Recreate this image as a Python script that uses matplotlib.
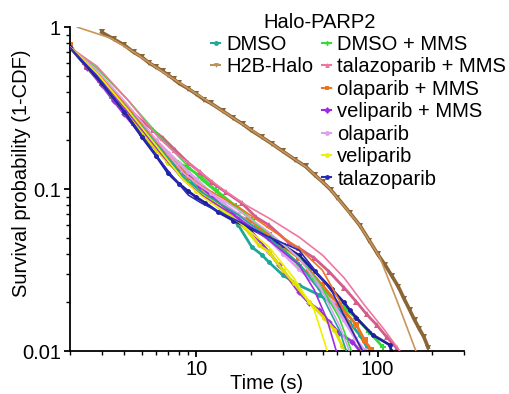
import matplotlib
matplotlib.use("Agg")
import matplotlib.pyplot as plt
from matplotlib.lines import Line2D
from matplotlib.ticker import LogLocator, NullFormatter, FixedLocator, FixedFormatter

plt.rcParams['font.family'] = ['Liberation Sans', 'DejaVu Sans']

# ---------------- data (time in s, survival probability) ----------------
# H2B-Halo
h2b_t = [3.0, 3.5, 4.0, 4.5, 5.0, 5.5, 6.0, 6.5, 7.0, 7.5, 8.0, 9, 10, 11, 12, 14, 16, 18, 20, 23, 26, 30,
         35, 40, 45, 50, 55, 60, 70, 80, 90, 100, 110, 120, 130, 140, 150, 160, 170, 180, 190]
h2b_y = [0.93, 0.843, 0.774, 0.701, 0.653, 0.599, 0.566, 0.535, 0.505, 0.477, 0.451, 0.417, 0.386, 0.357,
         0.339, 0.303, 0.274, 0.252, 0.231, 0.209, 0.191, 0.171, 0.152, 0.138, 0.122, 0.110, 0.0993, 0.0885,
         0.0717, 0.0594, 0.0481, 0.0397, 0.034, 0.029, 0.025, 0.021, 0.018, 0.0155, 0.0137, 0.0122, 0.0105]
h2b_fit_t = [2.2, 3.37, 4.35, 6.56, 10.26, 19.4, 40.3, 54.1, 79.4, 102.6, 127.5, 162.6]
h2b_fit_y = [1.0, 0.855, 0.721, 0.527, 0.380, 0.238, 0.137, 0.1015, 0.060, 0.038, 0.0206, 0.010]

# DMSO
dmso_t = [2.0, 3, 4, 5, 6, 7, 8, 9, 10, 12, 14, 17, 20.2, 23, 25.1, 30, 36.8, 47.6, 57.7, 69.8, 79.4, 86.8]
dmso_y = [0.752, 0.46, 0.31, 0.23, 0.185, 0.155, 0.132, 0.115, 0.103, 0.085, 0.073, 0.060, 0.0439, 0.0392,
          0.0354, 0.0294, 0.0255, 0.0222, 0.0192, 0.0151, 0.0126, 0.0107]
dmso_fit_t = [2.0, 2.82, 4.19, 6.15, 8.47, 10.66, 17.1, 25.1, 36.8, 47.6, 61.4, 67.2]
dmso_fit_y = [0.752, 0.527, 0.312, 0.184, 0.1186, 0.0958, 0.0691, 0.0499, 0.0349, 0.0238, 0.0135, 0.010]

# DMSO + MMS
dmms_t = [2.0, 2.42, 2.93, 3.41, 3.93, 4.47, 5.08, 5.77, 6.56, 7.26, 7.94, 9.03, 10.5, 12.75, 16.47, 20.21,
          25.1, 30.43, 36.8, 44.7, 54.1, 65.5, 76.4, 90.0, 106.6]
dmms_y = [0.752, 0.591, 0.458, 0.365, 0.307, 0.259, 0.222, 0.192, 0.169, 0.155, 0.145, 0.135, 0.120, 0.0986,
          0.0785, 0.0644, 0.0513, 0.0420, 0.0340, 0.0274, 0.0222, 0.0184, 0.0160, 0.0131, 0.0106]
dmms_fit_t = [2.0, 2.82, 4.19, 6.15, 7.64, 10.66, 17.1, 25.1, 36.8, 47.6, 61.4, 71.6]
dmms_fit_y = [0.752, 0.558, 0.354, 0.216, 0.167, 0.1137, 0.0742, 0.0535, 0.0377, 0.0263, 0.0160, 0.010]

# talazoparib + MMS
tmms_t = [2.0, 2.42, 2.93, 3.41, 3.93, 4.47, 5.08, 5.77, 6.56, 7.64, 9.03, 10.5, 12.11, 14.5, 17.78, 21.3,
          25.1, 32.5, 36.8, 44.7, 54.1, 65.5, 76.4, 86.8, 98.7, 112.2, 127.5]
tmms_y = [0.752, 0.608, 0.485, 0.397, 0.340, 0.295, 0.259, 0.231, 0.206, 0.174, 0.145, 0.127, 0.110, 0.0958,
          0.0820, 0.0671, 0.0600, 0.0464, 0.0432, 0.0375, 0.0308, 0.0245, 0.0201, 0.0169, 0.0145, 0.0122, 0.0104]
tmms_fit_t = [2.0, 2.82, 4.19, 6.15, 7.64, 10.66, 14.13, 18.72, 25.1, 36.8, 49.5, 65.5, 84.6, 109.1, 132.5]
tmms_fit_y = [0.752, 0.574, 0.354, 0.209, 0.167, 0.1255, 0.0986, 0.0797, 0.0662, 0.0506, 0.0392, 0.0282,
              0.0192, 0.0135, 0.010]

# olaparib + MMS
omms_t = [2.0, 2.5, 3.0, 3.5, 4.0, 4.5, 5.0, 6.0, 7.0, 8.0, 9.0, 10.5, 12.75, 16.47, 19.4, 22.1, 25.1, 30,
          36.8, 41.9, 49.5, 61.4, 76.4, 84.6, 92.4]
omms_y = [0.774, 0.566, 0.451, 0.370, 0.307, 0.255, 0.222, 0.19, 0.16, 0.138, 0.121, 0.103, 0.0855, 0.0691,
          0.0644, 0.0558, 0.0520, 0.0444, 0.0375, 0.0316, 0.0255, 0.0192, 0.0145, 0.0117, 0.0101]
omms_fit_t = [2.0, 2.82, 4.19, 6.15, 8.47, 10.66, 17.1, 25.1, 36.8, 49.5, 61.4, 81.5]
omms_fit_y = [0.752, 0.527, 0.321, 0.192, 0.127, 0.1044, 0.0774, 0.0574, 0.0432, 0.0316, 0.0206, 0.010]

# veliparib + MMS
vmms_t = [2.0, 2.5, 3.0, 3.5, 4.0, 5.0, 6.0, 7.0, 8.0, 9.38, 10.5, 12, 15.1, 19.4, 25.1, 28.5, 36.8, 41.9,
          47.6, 54.1, 61.4, 72.6, 79.4]
vmms_y = [0.752, 0.56, 0.44, 0.35, 0.29, 0.215, 0.175, 0.148, 0.128, 0.119, 0.105, 0.092, 0.0742, 0.0574,
          0.0409, 0.034, 0.0231, 0.0198, 0.0179, 0.0151, 0.0129, 0.0114, 0.0101]
vmms_fit_t = [2.0, 2.82, 4.19, 6.15, 8.47, 10.66, 17.1, 25.1, 36.8, 44.7, 52.7, 59.1]
vmms_fit_y = [0.752, 0.513, 0.299, 0.174, 0.1137, 0.0918, 0.0662, 0.0484, 0.0340, 0.0238, 0.0155, 0.010]

# olaparib
ola_t = [2.0, 3, 4, 5, 6, 7, 8, 9, 10, 12, 14, 17, 20, 25, 30, 36.8, 41.9, 47.6, 56.2, 65, 75, 84.6]
ola_y = [0.752, 0.47, 0.33, 0.245, 0.20, 0.168, 0.145, 0.128, 0.115, 0.095, 0.082, 0.070, 0.060, 0.049,
         0.040, 0.032, 0.0283, 0.0245, 0.020, 0.0155, 0.012, 0.0101]
ola_fit_t = [2.0, 2.82, 4.19, 6.15, 8.47, 10.66, 17.1, 25.1, 36.8, 47.6, 61.4, 69.8]
ola_fit_y = [0.752, 0.543, 0.330, 0.195, 0.1255, 0.103, 0.0742, 0.0543, 0.0375, 0.0255, 0.0145, 0.010]

# veliparib
vel_t = [2.0, 3, 4, 5, 6, 7, 8, 9, 10, 12, 15, 19.4, 22.1, 25.1, 30, 34.5, 41.9, 50.7, 57.7, 63.9, 67]
vel_y = [0.752, 0.45, 0.30, 0.22, 0.175, 0.145, 0.125, 0.110, 0.098, 0.0855, 0.071, 0.0542, 0.045, 0.0409,
         0.0316, 0.0263, 0.0201, 0.016, 0.0135, 0.0107, 0.010]
vel_fit_t = [2.0, 2.82, 4.19, 6.15, 8.47, 10.66, 17.1, 25.1, 34.5, 44.7, 52.7]
vel_fit_y = [0.752, 0.520, 0.307, 0.179, 0.1137, 0.0905, 0.0626, 0.0439, 0.0282, 0.0179, 0.010]

# talazoparib
tal_t = [2.0, 3, 4, 5, 6, 7, 8, 9, 10, 11.2, 13.2, 16, 20, 25, 30, 36.8, 45, 56, 65, 70, 76.4, 93.8, 116.6, 119]
tal_y = [0.752, 0.45, 0.30, 0.21, 0.16, 0.125, 0.108, 0.097, 0.089, 0.082, 0.0721, 0.064, 0.057, 0.050,
         0.045, 0.039, 0.031, 0.024, 0.020, 0.018, 0.016, 0.0126, 0.0109, 0.010]
tal_fit_t = [2.0, 2.82, 4.19, 6.15, 7.64, 9.03, 10.66, 16.47, 25.1, 36.8, 56.2, 68.1, 79.4, 82.5]
tal_fit_y = [0.752, 0.499, 0.282, 0.155, 0.1137, 0.0918, 0.082, 0.0644, 0.0506, 0.0420, 0.0231, 0.0151,
             0.0109, 0.010]

labels = ["DMSO", "H2B-Halo", "DMSO + MMS", "talazoparib + MMS", "olaparib + MMS",
          "veliparib + MMS", "olaparib", "veliparib", "talazoparib"]

# ---------------- figure ----------------
fig = plt.figure(figsize=(5.1, 3.94), dpi=100)
ax = fig.add_axes([0.137, 0.109, 0.773, 0.822])

series = [
    # label, data t, data y, fit t, fit y, data color, fit color, marker, marker size
    ("DMSO", dmso_t, dmso_y, dmso_fit_t, dmso_fit_y, "#1ea89c", "#1ea89c", "o", 3.5),
    ("H2B-Halo", h2b_t, h2b_y, h2b_fit_t, h2b_fit_y, "#8a6636", "#c9955a", "v", 4.5),
    ("DMSO + MMS", dmms_t, dmms_y, dmms_fit_t, dmms_fit_y, "#33dd33", "#33dd33", "P", 4.0),
    ("talazoparib + MMS", tmms_t, tmms_y, tmms_fit_t, tmms_fit_y, "#d25c8a", "#ee77a0", "^", 4.0),
    ("olaparib + MMS", omms_t, omms_y, omms_fit_t, omms_fit_y, "#ee7420", "#ee7420", "s", 4.3),
    ("veliparib + MMS", vmms_t, vmms_y, vmms_fit_t, vmms_fit_y, "#9a2ee0", "#9a2ee0", "D", 3.3),
    ("olaparib", ola_t, ola_y, ola_fit_t, ola_fit_y, "#dca0ec", "#dca0ec", "o", 3.5),
    ("veliparib", vel_t, vel_y, vel_fit_t, vel_fit_y, "#e0e000", "#f0f000", "o", 3.5),
    ("talazoparib", tal_t, tal_y, tal_fit_t, tal_fit_y, "#1f1f9f", "#2a2ab8", "o", 3.5),
]

handles = {}
for lab, dt, dy, ft, fy, dc, fc, mk, ms in series:
    lw = 2.6 if lab == "H2B-Halo" else 2.0
    ax.plot(dt, dy, color=dc, lw=lw, marker=mk, ms=ms, mew=0, zorder=2)
for lab, dt, dy, ft, fy, dc, fc, mk, ms in series:
    ax.plot(ft, fy, color=fc, lw=1.2, zorder=3)
    handles[lab] = Line2D([], [], color=fc if lab != "H2B-Halo" else "#b8925e", lw=1.5,
                          marker=mk, ms=3.5, mew=0)

ax.set_xscale("log")
ax.set_yscale("log")
ax.set_xlim(2, 300)
ax.set_ylim(0.01, 1)

for s in ["top", "right"]:
    ax.spines[s].set_visible(False)
for s in ["left", "bottom"]:
    ax.spines[s].set_linewidth(1.3)

ax.yaxis.set_major_locator(FixedLocator([0.01, 0.1, 1]))
ax.yaxis.set_major_formatter(FixedFormatter(["0.01", "0.1", "1"]))
ax.xaxis.set_major_locator(FixedLocator([10, 100]))
ax.xaxis.set_major_formatter(FixedFormatter(["10", "100"]))
ax.xaxis.set_minor_locator(LogLocator(base=10, subs=range(2, 10)))
ax.yaxis.set_minor_locator(LogLocator(base=10, subs=range(2, 10)))
ax.xaxis.set_minor_formatter(NullFormatter())
ax.yaxis.set_minor_formatter(NullFormatter())
ax.tick_params(which="major", length=4.5, width=1.3, labelsize=14.5, pad=2)
ax.tick_params(which="minor", length=3, width=1.0)

ax.set_xlabel("Time (s)", fontsize=14.5)
ax.set_ylabel("Survival probability (1-CDF)", fontsize=14.5)
ax.xaxis.set_label_coords(0.5, -0.072)
ax.yaxis.set_label_coords(-0.098, 0.55)

blank = Line2D([], [], color="none")
leg_h = [handles["DMSO"], handles["H2B-Halo"]] + [blank] * 5 + \
        [handles[l] for l in labels[2:]]
leg_l = ["DMSO", "H2B-Halo"] + [""] * 5 + labels[2:]
leg = fig.legend(leg_h, leg_l, ncol=2, loc="upper left", bbox_to_anchor=(211 / 510, 1 - 35 / 394),
                 frameon=False, fontsize=14.5, handlelength=0.45, handletextpad=0.3, columnspacing=0.45,
                 labelspacing=0.17, borderpad=0, borderaxespad=0)
fig.text(320 / 510, 1 - 23 / 394, "Halo-PARP2", fontsize=14.5, ha="center", va="center")

fig.savefig("out.png", dpi=100)
